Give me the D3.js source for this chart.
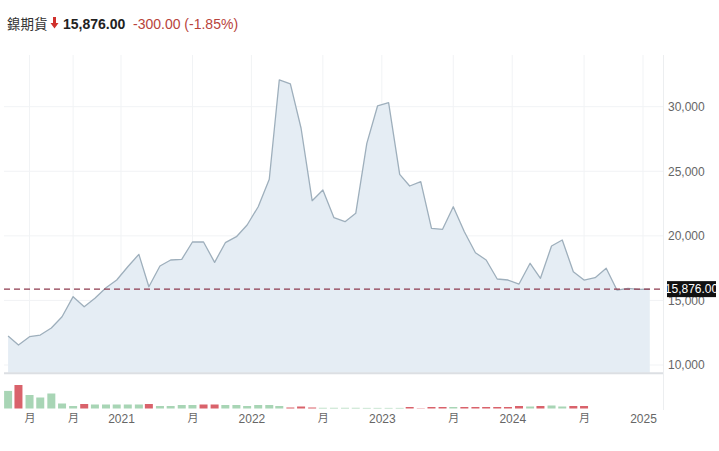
<!DOCTYPE html>
<html><head><meta charset="utf-8">
<script src="https://cdn.jsdelivr.net/npm/d3@7"></script>
<style>
html,body{margin:0;padding:0;background:#fff;}
svg{display:block;}
</style></head>
<body>
<svg id="chart" width="719" height="451"></svg>
<script>
// ---------- DATA ----------
const title = "鎳期貨";
const lastText = "15,876.00";
const changeText = "-300.00 (-1.85%)";
const lastValue = 15876;

const months = [
 "2020-02","2020-03","2020-04","2020-05","2020-06","2020-07","2020-08","2020-09","2020-10","2020-11","2020-12",
 "2021-01","2021-02","2021-03","2021-04","2021-05","2021-06","2021-07","2021-08","2021-09","2021-10","2021-11","2021-12",
 "2022-01","2022-02","2022-03","2022-04","2022-05","2022-06","2022-07","2022-08","2022-09","2022-10","2022-11","2022-12",
 "2023-01","2023-02","2023-03","2023-04","2023-05","2023-06","2023-07","2023-08","2023-09","2023-10","2023-11","2023-12",
 "2024-01","2024-02","2024-03","2024-04","2024-05","2024-06","2024-07","2024-08","2024-09","2024-10","2024-11","2024-12",
 "2025-01"];

const prices = [
 12245,11550,12190,12320,12865,13740,15290,14510,15165,15985,16580,
 17610,18570,16060,17665,18130,18185,19525,19525,17950,19470,19935,20840,
 22255,24380,32070,31760,28330,22720,23550,21405,21095,21745,27165,30055,
 30310,24765,23860,24195,20585,20505,22255,20320,18695,18130,16660,16580,
 16270,17875,16715,19215,19680,17225,16580,16760,17490,15805,15940,15860,
 15876];

const volumes = [
 17.6,23.5,13.5,11,15,5,2.5,4.5,4,4,4,
 4,4,4.5,2.5,2.5,3.5,3.5,4,4,3.5,3.5,2.5,
 3.5,3.5,2.5,1,2,1,0.7,0.7,0.7,0.7,0.6,0.6,
 0.6,0.6,1.5,0.3,1.5,1.5,1.5,1.5,1.5,1.5,1.5,1.5,
 2.5,2,2.5,3,2,2.5,2.5,0,0,0,0,0,
 0];
// 1 = up (green), 0 = down (red)
const volumeUp = [
 1,0,1,1,1,1,1,0,1,1,1,
 1,1,0,1,1,1,1,0,0,1,1,1,
 1,1,1,0,0,0,1,1,1,1,1,1,
 1,1,0,0,0,0,1,0,0,0,0,0,
 0,1,0,1,1,0,0,1,1,1,1,1,
 1];

const yTicks = [10000,15000,20000,25000,30000];
const xTickDates = ["2020-04-20","2020-08-20","2021-01-01","2021-07-20","2022-01-01","2022-07-20","2023-01-01","2023-07-20","2024-01-01","2024-07-20","2025-01-01"];
const xTickLabels = ["月","月","2021","月","2022","月","2023","月","2024","月","2025"];

// ---------- DRAW ----------
const svg = d3.select("#chart");
const parseM = d3.timeParse("%Y-%m-%d");
const data = months.map((m,i)=>({date: parseM(m+"-20"), v: prices[i], vol: volumes[i], up: volumeUp[i]}));

const x = d3.scaleTime().domain([parseM("2021-01-01"), parseM("2025-01-01")]).range([121, 643]);
const y = d3.scaleLinear().domain([10000, 30000]).range([365, 106.7]);
const plotBottom = y(9400);
const plotTop = 55;
const plotLeft = 4, plotRight = 663;
const vol = d3.scaleLinear().domain([0, 23.5]).range([408.5, 385]);

const axisFont = "'Liberation Sans Narrow','Arial Narrow',sans-serif";

// gridlines
const grid = svg.append("g");
grid.selectAll("line.h").data(yTicks).join("line")
  .attr("x1", plotLeft).attr("x2", plotRight)
  .attr("y1", d=>y(d)).attr("y2", d=>y(d))
  .attr("stroke", "#f1f3f5").attr("stroke-width", 1);
grid.selectAll("line.v").data(xTickDates).join("line")
  .attr("x1", d=>x(parseM(d))).attr("x2", d=>x(parseM(d)))
  .attr("y1", plotTop).attr("y2", plotBottom)
  .attr("stroke", "#f1f3f5").attr("stroke-width", 1);

// area
const area = d3.area().x(d=>x(d.date)).y0(plotBottom).y1(d=>y(d.v));
svg.append("path").datum(data).attr("d", area).attr("fill", "#e5edf4");
const line = d3.line().x(d=>x(d.date)).y(d=>y(d.v));
svg.append("path").datum(data).attr("d", line)
  .attr("fill", "none").attr("stroke", "#9eafbc").attr("stroke-width", 1.3)
  .attr("stroke-linejoin", "round");

// plot borders
svg.append("line").attr("x1", plotLeft).attr("x2", plotRight)
  .attr("y1", plotBottom+0.5).attr("y2", plotBottom+0.5)
  .attr("stroke", "#dcdfe3").attr("stroke-width", 2);
svg.append("line").attr("x1", plotRight+0.5).attr("x2", plotRight+0.5)
  .attr("y1", plotTop).attr("y2", 410)
  .attr("stroke", "#eceef0").attr("stroke-width", 1);

// volume bars
svg.append("g").selectAll("rect").data(data.filter(d=>d.vol>0)).join("rect")
  .attr("x", d=>x(d.date)-4)
  .attr("width", 8)
  .attr("y", d=>vol(d.vol))
  .attr("height", d=>vol(0)-vol(d.vol))
  .attr("fill", d=>d.up ? "#a8d5b5" : "#d9626b");

// last price dashed line
svg.append("line").attr("x1", plotLeft).attr("x2", plotRight)
  .attr("y1", y(lastValue)).attr("y2", y(lastValue))
  .attr("stroke", "#8e3a4e").attr("stroke-width", 1.2)
  .attr("stroke-dasharray", "6,4");

// y axis
const yAxis = d3.axisRight(y).tickValues(yTicks).tickSize(0).tickPadding(5)
  .tickFormat(d3.format(","));
const gy = svg.append("g").attr("transform", `translate(${plotRight},0)`).call(yAxis);
gy.select(".domain").remove();
gy.selectAll("text").attr("font-family", axisFont).attr("font-size", 12).attr("fill", "#666");

// last price label
const ly = y(lastValue);
svg.append("rect").attr("x", 667).attr("y", ly-8).attr("width", 49).attr("height", 16).attr("fill", "#111");
svg.append("text").attr("x", 691.5).attr("y", ly+4.2).attr("text-anchor", "middle")
  .attr("font-family", axisFont).attr("font-size", 12).attr("fill", "#fff").text(lastText);

// x axis
const xAxis = d3.axisBottom(x).tickValues(xTickDates.map(parseM)).tickSize(0).tickPadding(0)
  .tickFormat((d,i)=>xTickLabels[i]);
const gx = svg.append("g").attr("transform", "translate(0,414)").call(xAxis);
gx.select(".domain").remove();
gx.selectAll("text").attr("font-family", axisFont).attr("font-size", 12).attr("fill", "#666")
  .attr("dy", "0.71em");
gx.selectAll("text").filter((d,i)=>xTickLabels[i]==="月")
  .attr("font-family", "'Noto Sans CJK TC',sans-serif").attr("font-size", 11);

// header
svg.append("text").attr("x", 7).attr("y", 28.5)
  .attr("font-family", "'Noto Sans CJK TC',sans-serif").attr("font-size", 13.5).attr("fill", "#333")
  .text(title);
svg.append("path")
  .attr("d", "M53,17 h3 v6 h2.5 l-4,5.5 l-4,-5.5 h2.5 z")
  .attr("fill", "#d0312d");
svg.append("text").attr("x", 63).attr("y", 29)
  .attr("font-family", "'Liberation Sans',Arial,sans-serif").attr("font-size", 14).attr("font-weight", "bold").attr("fill", "#222")
  .text(lastText);
svg.append("text").attr("x", 133).attr("y", 29)
  .attr("font-family", "'Liberation Sans',Arial,sans-serif").attr("font-size", 14).attr("fill", "#b8433b")
  .text(changeText);
</script>
</body></html>
